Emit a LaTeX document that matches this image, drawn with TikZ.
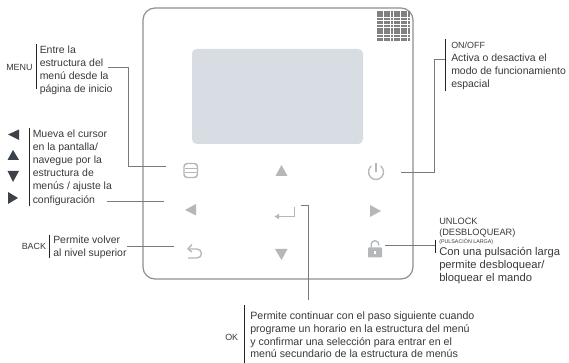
\documentclass[tikz,border=0pt]{standalone}
\usepackage{fontspec}
\setmainfont{Liberation Sans}
\definecolor{panelgrey}{HTML}{8F8F8F}
\definecolor{leadgrey}{HTML}{7A7A7A}
\definecolor{icongrey}{HTML}{B5B7BA}
\definecolor{screenc}{HTML}{D8DCE3}
\definecolor{textc}{HTML}{3A3A3A}
\definecolor{darkmark}{HTML}{3C4248}
\tikzset{
  x=0.75pt,y=-0.75pt,
  lead/.style={draw=leadgrey,line width=0.75pt},
  sepbar/.style={draw=black!85,line width=0.6pt},
  body/.style={font=\fontsize{7.85pt}{9.85pt}\selectfont,text=textc,align=left,anchor=north west,inner sep=0pt},
  tag/.style={font=\fontsize{6.7pt}{8pt}\selectfont,text=textc,inner sep=0pt},
  glyph/.style={fill=icongrey,draw=none},
  darktri/.style={fill=darkmark,draw=none},
  iconline/.style={draw=icongrey,line width=1pt},
}
\begin{document}
\begin{tikzpicture}
\useasboundingbox (0,0) rectangle (569,363);
\fill[white] (0,0) rectangle (569,363);
% panel
\draw[draw=panelgrey,line width=0.9pt,rounded corners=9pt] (143,8) rectangle (413,279);
\fill[screenc,rounded corners=3.5pt] (192,49) rectangle (363,144);
% grille
\foreach \i in {0,...,9}{\foreach \j in {0,...,8}{
  \fill[black!50] ({377+\i*3.4},{11+\j*3.4}) rectangle ({377+\i*3.4+2.7},{11+\j*3.4+2.7});
}}
% icons
\draw[iconline,line width=1.1pt,rounded corners=2.4pt] (184,163.5) rectangle (197.5,177.5);
\draw[iconline,line width=0.8pt] (185,168.5) -- (196.5,168.5) (185,172.5) -- (196.5,172.5);
\fill[glyph] (275.5,176) -- (287.5,176) -- (281.5,165) -- cycle;
\fill[glyph] (196,204) -- (196,215.5) -- (185,210) -- cycle;
\fill[glyph] (275,249) -- (287.5,249) -- (281.5,260) -- cycle;
\fill[glyph] (370,205) -- (370,217) -- (381,211) -- cycle;
% power
\draw[iconline,line cap=round] (376,172) ++(-50:7.5) arc[start angle=-50,end angle=230,radius=7.5];
\draw[iconline] (376,163) -- (376,172);
% enter
\draw[iconline] (294.5,207) -- (294.5,216.5) -- (278,216.5);
\fill[glyph] (274.5,216.5) -- (279,213.8) -- (279,219.2) -- cycle;
% back
\draw[iconline] (188,249) -- (197,249) arc[start angle=-90,end angle=90,radius=4.5] -- (188,258);
\draw[iconline] (192,244.5) -- (188,249) -- (192,252);
% lock
\fill[glyph,rounded corners=0.6pt] (368,247.5) rectangle (382,257.5);
\draw[iconline] (371.2,247.5) -- (371.2,244.5) arc[start angle=180,end angle=360,radius=3.8] -- (378.8,245.5);
\fill[white] (374.2,251) rectangle (376.2,254);
% MENU
\node[tag,anchor=west] (menutag) at (6,67) {MENU};
\coordinate (menubarT) at (36,44);
\coordinate (menubarB) at (36,89);
\draw[sepbar] (menubarT) -- (menubarB);
\node[body] (menutxt) at (39.5,45.2) {Entre la\\estructura del\\menú desde la\\página de inicio};
\coordinate (menuicon) at (166,167);
\coordinate (menufree) at (108,68);
\draw[lead] (menufree) -- (128.5,68) -- (128.5,167) -- (menuicon);
% arrows
\fill[darktri] (19,129.5) -- (8,134.5) -- (19,140) -- cycle;
\fill[darktri] (7.5,160) -- (19,160) -- (13,150) -- cycle;
\fill[darktri] (7.5,171) -- (19,171) -- (13,182) -- cycle;
\fill[darktri] (8,192) -- (8,204) -- (18,198) -- cycle;
\coordinate (navbarT) at (29,128);
\coordinate (navbarB) at (29,206);
\draw[sepbar] (navbarT) -- (navbarB);
\node[body] (navtxt) at (32.5,129.5) {Mueva el cursor\\en la pantalla/\\navegue por la\\estructura de\\menús / ajuste la\\configuración};
\coordinate (navfree) at (107,202);
\coordinate (navicon) at (164,202);
\draw[lead] (navfree) -- (navicon);
% back
\node[tag,anchor=west] (backtag) at (21.5,246.5) {BACK};
\coordinate (backT) at (49.5,235);
\coordinate (backB) at (49.5,258);
\draw[sepbar] (backT) -- (backB);
\node[body] (backtxt) at (53,235.5) {Permite volver\\al nivel superior};
\coordinate (backfree) at (127,247);
\coordinate (backicon) at (174,247);
\draw[lead] (backfree) -- (backicon);
% on/off
\coordinate (onT) at (445.5,39);
\coordinate (onB) at (445.5,91);
\draw[sepbar] (onT) -- (onB);
\node[tag,anchor=north west] (ontag) at (451,41.5) {ON/OFF};
\node[body] (ontxt) at (451,53.5) {Activa o desactiva el\\modo de funcionamiento\\espacial};
\coordinate (onfree) at (445,59.5);
\coordinate (onicon) at (400.5,172.5);
\draw[lead] (onfree) -- (434.5,59.5) -- (434.5,172.5) -- (onicon);
% unlock
\node[font=\fontsize{6.9pt}{8.3pt}\selectfont,text=textc,align=left,anchor=north west,inner sep=0pt] (unlock) at (439,217.5) {UNLOCK\\(DESBLOQUEAR)};
\node[font=\fontsize{4pt}{5pt}\selectfont,text=textc,anchor=west,inner sep=0pt] (longp) at (439,241.7) {(PULSACIÓN LARGA)};
\node[body,font=\fontsize{8.4pt}{9.85pt}\selectfont] (unlocktxt) at (439,246.5) {Con una pulsación larga\\permite desbloquear/\\bloquear el mando};
\coordinate (lockT) at (435,240);
\coordinate (lockB) at (435,253);
\draw[sepbar] (lockT) -- (lockB);
\coordinate (lockfree) at (435,246);
\coordinate (lockicon) at (385,246);
\draw[lead] (lockfree) -- (lockicon);
% ok
\node[tag,anchor=west] (oktag) at (225,337) {OK};
\coordinate (okT) at (244.5,305);
\coordinate (okB) at (244.5,363);
\draw[sepbar] (okT) -- (okB);
\node[body,font=\fontsize{7.98pt}{9.4pt}\selectfont] (oktxt) at (250,312) {Permite continuar con el paso siguiente cuando\\programe un horario en la estructura del menú\\y confirmar una selección para entrar en el\\menú secundario de la estructura de menús};
\coordinate (okicon) at (301,206);
\coordinate (okfree) at (308,300);
\draw[lead] (okicon) -- (308,206) -- (okfree);
\end{tikzpicture}
\end{document}
